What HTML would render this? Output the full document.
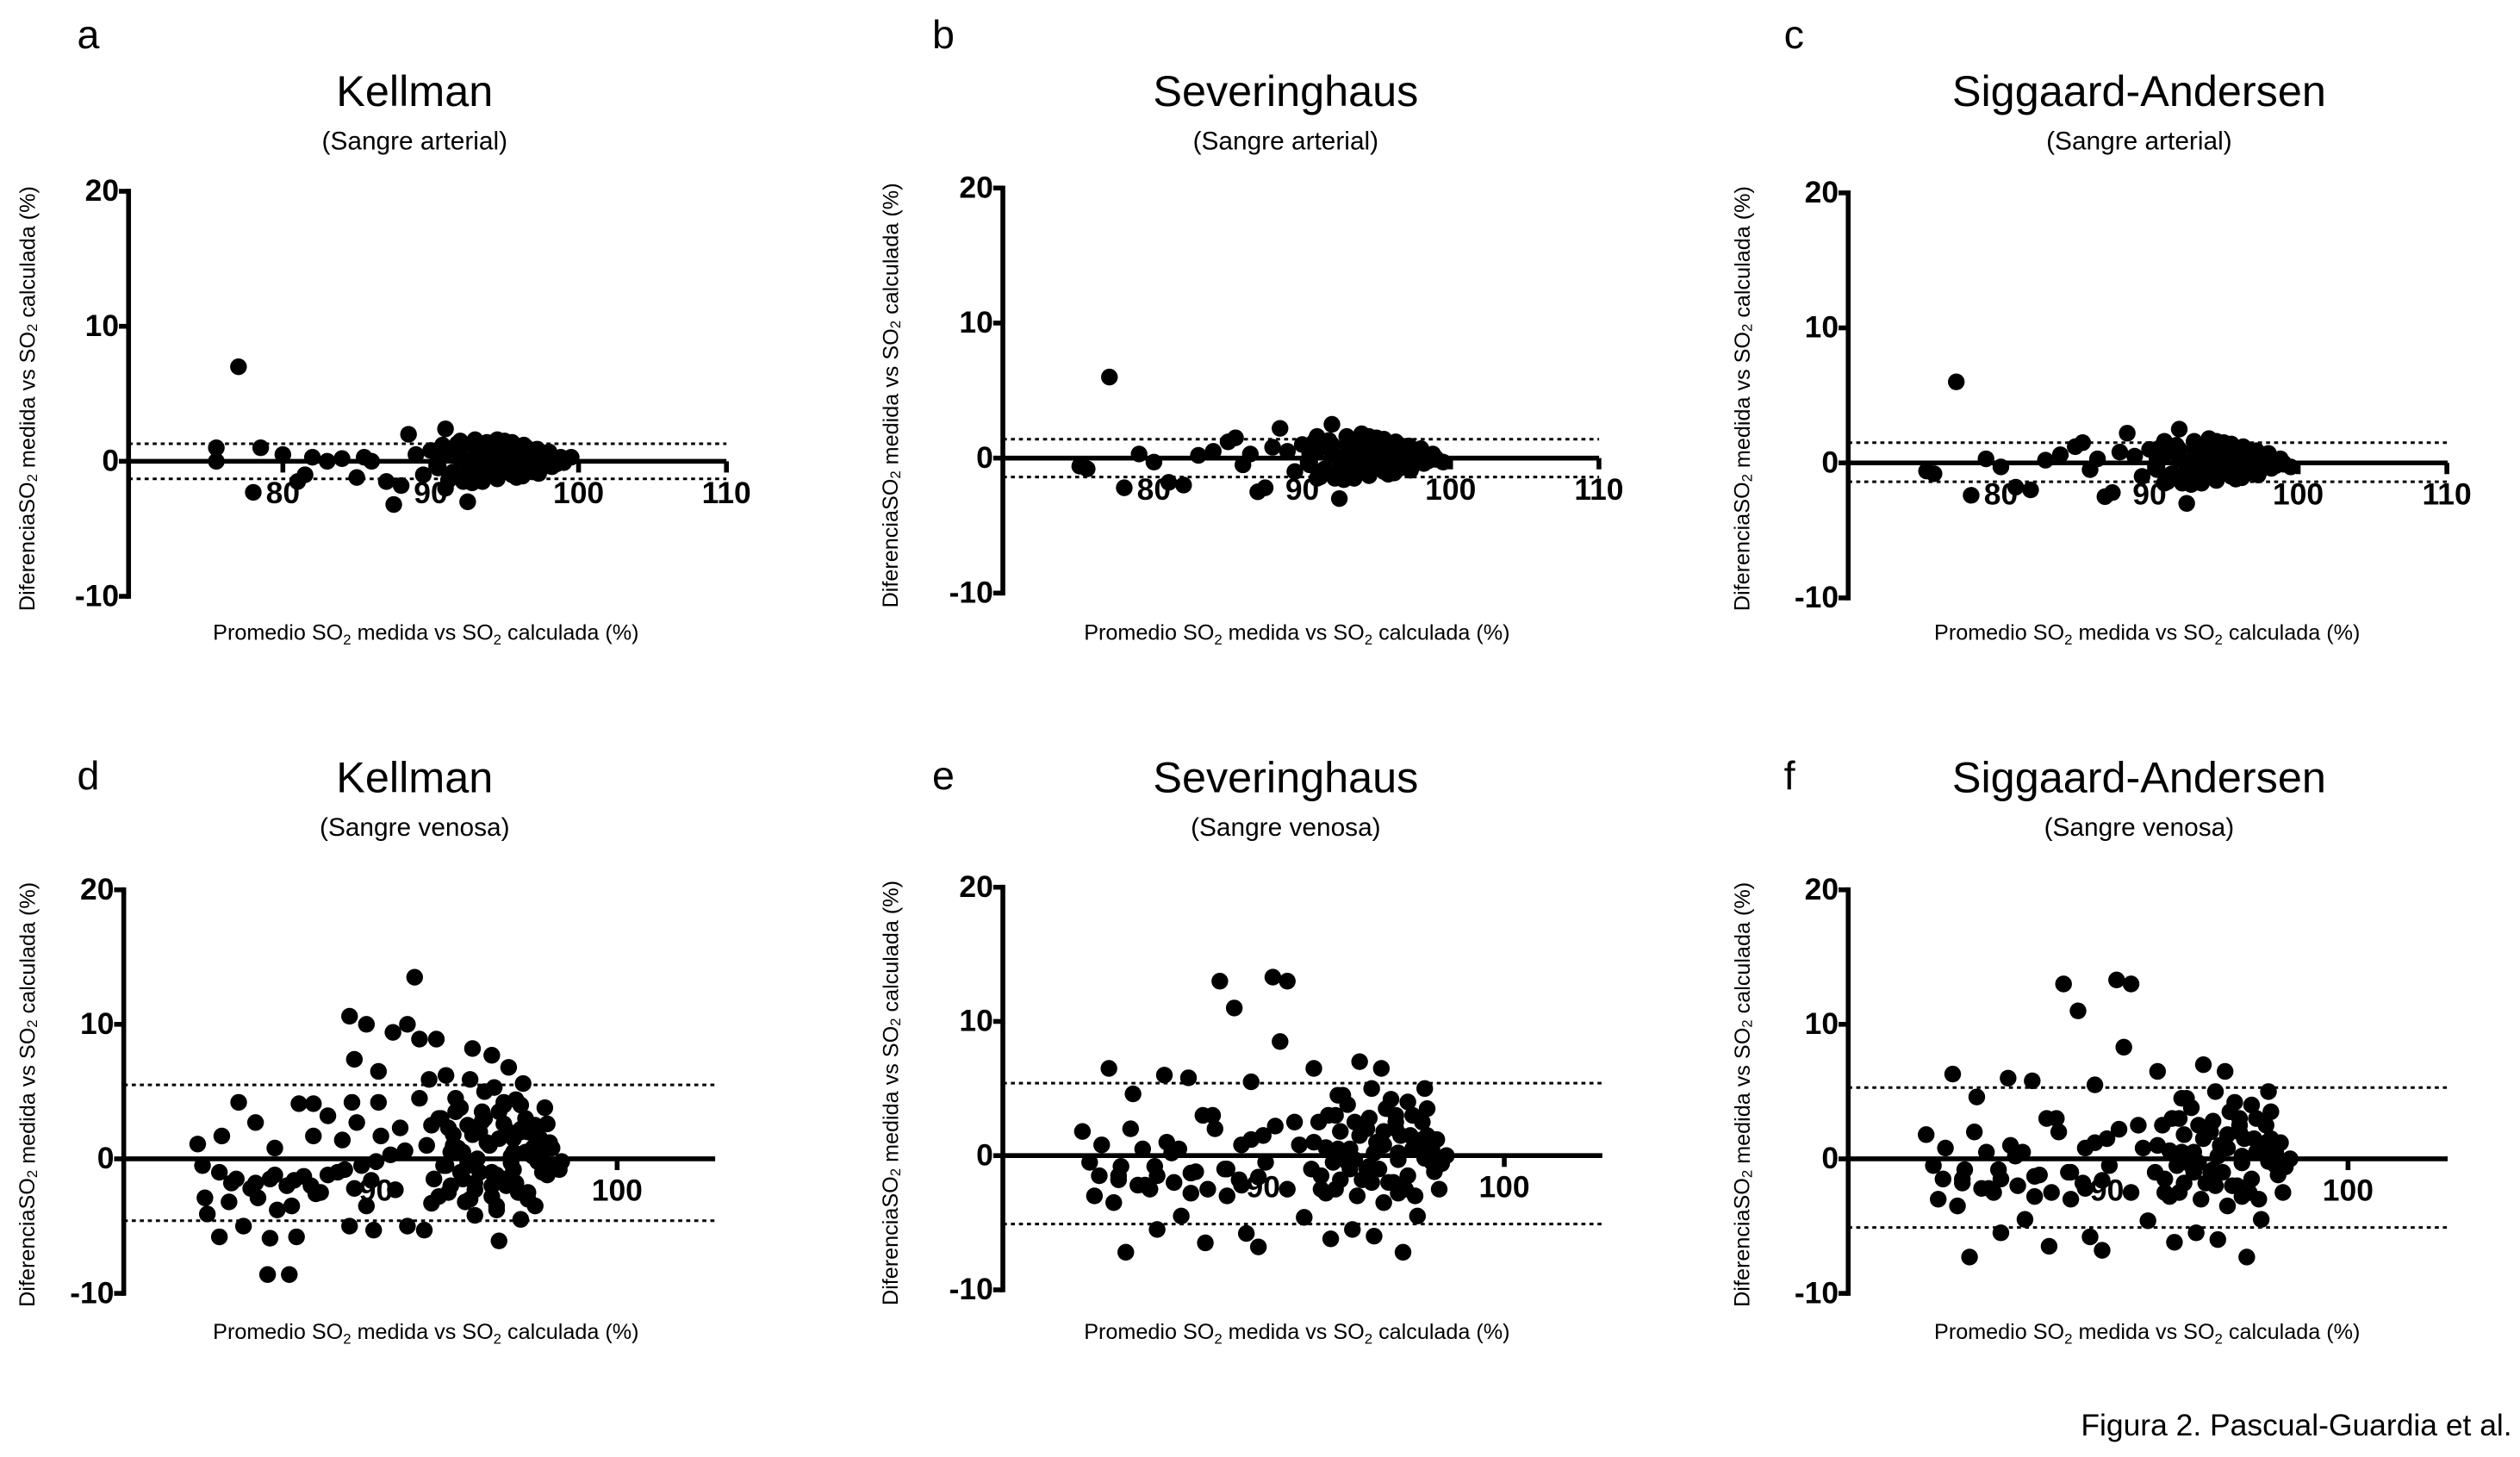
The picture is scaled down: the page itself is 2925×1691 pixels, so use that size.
<!DOCTYPE html>
<html><head><meta charset="utf-8">
<style>
html,body{margin:0;padding:0;background:#fff;}
svg{display:block;}
text{font-family:"Liberation Sans",sans-serif;fill:#000;}
.tk{font-family:"Liberation Sans Narrow","Liberation Sans",sans-serif;font-weight:bold;font-size:19px;}
.ttl{font-size:27px;}
.sub{font-size:16px;}
.lt{font-size:25px;}
.al{font-size:13.5px;}
</style></head>
<body>
<svg id="fig" width="2925" height="1691" viewBox="0 0 1568 906.5" xmlns="http://www.w3.org/2000/svg">
<g id="panels"></g>
<text x="1563" y="893" text-anchor="end" style="font-size:19px">Figura 2. Pascual-Guardia et al.</text>
</svg>
<script>
// ---- data (x = promedio, y = diferencia) ----
const topClusterX=[90.5,91,91.5,92,92.5,93,93.5,94,94.5,95,95.5,96,96.5,97,97.5,98,98.5,99,91.2,92.2,93.2,94.2,95.2,96.2,97.2,98.2,91.8,92.8,93.8,94.8,95.8,96.8,97.8,98.8,90.8,93.3,94.3,95.3,96.3,97.3];
const topClusterY=[-0.3,0.6,-1,0.4,-0.6,1,-0.9,0.5,-0.4,1.1,-0.7,0.7,-0.3,0.5,-0.2,0.4,0.1,-0.1,-1.4,-1.5,0,-0.2,0.2,-1.1,0.9,-0.4,1.3,-1.6,1.4,1,-1.2,0.2,0.1,0.3,1.2,-0.3,-0.8,0.5,1.2,-0.9];
const aX=[77,75.5,75.5,78,78.5,80,81,81.5,82,83,84,85,85.5,86,87,87.5,88,88.5,89,89.5,90,90.5,91,91,92,92.5,92,93,93.5,94,94,94.5,95,95,95.5,96,96,96.5,97,97,97.5,98,98.5,99,99.5,93,94,95,96,92.5,91.5,90.5,93.5,94.5,95.5,96.5,97.5,98,92,93,94.5,95.5].concat(topClusterX);
const aY=[7,1,0,-2.3,1,0.5,-1.5,-1,0.3,0,0.2,-1.2,0.3,0,-1.5,-3.2,-1.8,2,0.5,-1,0.8,-0.5,2.4,-2,1.5,-3,0.2,-0.5,1,1.2,-1,0,1.5,-0.5,0.8,0.3,-0.6,1,0,-0.3,0.6,0.2,-0.2,0,0.3,0.4,0.6,0.2,-0.2,-1.2,-0.8,0.3,-1.5,-1.3,-1,-0.8,-0.5,0.7,1,1.6,1.6,1.4].concat(topClusterY);
const bX=[77,75.5,75,78,79,80,81,82,83,84,85,85.5,86,87,87.5,88,88.5,89,89.5,90,90.5,91,91,92,92.5,92,93,93.5,94,94,94.5,95,95,95.5,96,96,96.5,97,97,97.5,98,98.5,99,99.5,93,94,95,96,92.5,91.5,90.5,93.5,94.5,95.5,96.5,97.5,98,92,93,94.5,95.5,86.5].concat(topClusterX);
const bY=[6,-0.8,-0.6,-2.2,0.3,-0.3,-1.8,-2,0.2,0.5,1.2,1.5,-0.5,-2.5,-2.2,0.8,2.2,0.5,-1,1,-0.5,1.6,-1.5,2.5,-3,0.2,-0.5,1,1.8,-1,0,1.5,-0.5,0.8,0.3,-0.6,1,0,-0.3,0.6,0.2,-0.2,0,-0.3,0.4,0.6,0.2,-0.2,-1.2,-0.8,0.3,-1.5,-1.3,-1,-0.8,-0.5,0.7,1,1.6,1.6,1.4,0.3].concat(topClusterY);
const cX=bX.slice();
const cY=[6,-0.8,-0.6,-2.4,0.3,-0.3,-1.8,-2,0.2,0.6,1.2,1.5,-0.5,-2.5,-2.2,0.8,2.2,0.5,-1,1,-0.5,1.6,-1.5,2.5,-3,0.2,-0.5,1,1.8,-1,0,1.5,-0.5,0.8,0.3,-0.6,1,0,-0.3,0.6,0.2,-0.2,0,-0.3,0.4,0.6,0.2,-0.2,-1.2,-0.8,0.3,-1.5,-1.3,-1,-0.8,-0.5,0.7,1,1.6,1.6,1.4,0.3].concat(topClusterY);
const botClusterX=[92.1,92.4,92.7,93,93.3,93.6,93.9,94.2,94.5,94.8,95.1,95.4,95.7,96,96.3,96.6,96.9,97.2,92.3,92.9,93.5,94.1,94.7,95.3,95.9,96.5,97.1,92.6,93.2,93.8,94.4,95,95.6,96.2,96.8,97.4,93.1,94.3,95.5,96.7,84,84.8,85.6,86.3,87,87.7,88.4,89.1,89.8];
const botClusterY=[1,-1.5,3,-2.5,4.5,0.5,-3,2,5,-1,3.5,-2,1.5,4,-3,2.5,0,1.2,2.5,-0.5,3.8,-1.8,1,4.2,-2.5,0.8,-1.2,-2.8,1.8,-0.3,2.8,-3.5,0.2,3,1.5,-0.6,0.5,-1,2,-0.2,-1.8,-2.2,-1.5,-2,-1.3,-2.5,-1,-2.2,-1.6];
const dX=[82.6,82.8,82.9,83.0,83.5,83.6,83.9,84.3,84.5,85.0,85.1,85.5,85.6,85.8,85.9,86.4,86.5,86.7,86.8,87.4,87.4,87.5,88.0,88.6,88.9,88.9,89.0,89.1,89.2,89.6,89.6,89.9,90.1,90.1,90.2,90.7,90.8,91.0,91.3,91.3,91.6,91.8,91.8,92.0,92.2,92.3,92.5,92.9,93.0,93.4,93.7,93.9,94.0,94.1,94.1,94.4,94.7,94.8,94.9,95.0,95.1,95.3,95.5,95.7,95.8,96.0,96.1,96.2,96.3,96.6,96.8,97.0,97.1,97.3,97.6,97.7,
83.5,84.2,85,85.8,86.6,87.3,88,88.7,89.4,90,90.6,91.2,93.2,93.5,93.8,94.2,94.5,94.8,95.1,95.4,95.7,96,96.3,96.6,96.9,93.3,93.8,94.3,94.8,95.3,95.8,96.3,96.8,97.2,93.6,94.6,95.6,96.5,92.6,92.8,93.1,94,95,96,97].concat(botClusterX);
const dY=[1.1,-0.5,-2.9,-4.1,-5.8,1.7,-3.2,4.2,-5,2.7,-2.9,-8.6,-5.9,0.8,-3.8,-8.6,-3.5,-5.8,4.1,4.1,1.7,-2.6,3.2,1.4,10.6,-5,4.2,7.4,2.7,10,-3.5,-5.3,6.5,4.2,1.7,9.4,-2.3,2.3,10,-5,13.5,8.9,4.5,-5.3,5.9,-3.3,8.9,6.2,2.3,0.8,-3.2,5.9,8.2,-4.2,-2.3,3.5,1.1,7.7,5.3,-3.8,-6.1,2.6,6.8,-0.8,4.4,-4.5,5.6,0.5,2,-3.5,-0.2,3.8,2.6,0.8,-0.8,-0.2,
-1,-1.5,-1.8,-1.2,-1.6,-2,-1.2,-0.8,-0.5,-0.2,0.3,0.6,1,-1,2.5,0,3,-2,1.5,-1.5,0.5,2,-2.5,1,-1,3.5,-0.5,2,-2.8,4,-1.8,0.4,1.5,-0.6,-1.5,1.2,-0.3,0.2,3,-0.5,-2,1.8,-1.2,2.2,0.8].concat(botClusterY);
const eX=[82.5,82.8,83,83.3,83.6,84,84.3,84.6,85,85.3,85.6,85.9,86.2,86.6,86.9,87.2,87.6,87.9,88.2,88.5,88.8,89.1,89.3,89.5,89.8,90.1,90.4,90.7,91,91.3,91.7,92.1,92.4,92.8,93.1,93.4,93.7,94,94.3,94.6,94.9,95.2,95.5,95.8,96.1,96.4,96.7,97,97.3,97.6,
83.2,84.1,85.1,86,87,88,89,90,91,92,93,93.5,94,94.5,95,95.5,96,96.5,97,93.2,93.8,94.4,95,95.6,96.2,96.8,92.6,93.6,94.6,95.6,96.6,91.5,90.5,89.5,88.5,87.5,86.5,85.5,84.5,83.8].concat(botClusterX);
const eY=[1.8,-0.5,-3,0.8,6.5,-1.5,-7.2,4.6,0.5,-2.5,-5.5,6,0.2,-4.5,5.8,-1.2,-6.5,3,13,-3,11,0.8,-5.8,5.5,-6.8,-0.5,13.3,8.5,13,2.5,-4.6,6.5,-2.5,-6.2,4.5,0.3,-5.5,7,2,-6,6.5,-2,3,-7.2,1.5,-4.5,5,0.5,-2.5,0,
-1.5,-0.8,-2.2,1,-2.8,2,-1.8,1.5,-2.5,-1,3,-0.5,1.5,-2,0.8,2.5,-1.5,1,-0.5,-1.8,2.5,-0.8,1.8,-2.8,0.5,3.5,0.6,-1,0.2,-0.3,1.2,0.8,2.2,1.2,-1,3,0.5,-0.8,2,-3.5].concat(botClusterY);
const fX=eX.slice();
const fY=[1.8,-0.5,-3,0.8,6.3,-1.5,-7.3,4.6,0.5,-2.5,-5.5,6,0.2,-4.5,5.8,-1.2,-6.5,3,13,-3,11,0.8,-5.8,5.5,-6.8,-0.5,13.3,8.3,13,2.5,-4.6,6.5,-2.5,-6.2,4.5,0.3,-5.5,7,2,-6,6.5,-2,3,-7.3,1.5,-4.5,5,0.5,-2.5,0,
-1.5,-0.8,-2.2,1,-2.8,2,-1.8,1.5,-2.5,-1,3,-0.5,1.5,-2,0.8,2.5,-1.5,1,-0.5,-1.8,2.5,-0.8,1.8,-2.8,0.5,3.5,0.6,-1,0.2,-0.3,1.2,0.8,2.2,1.2,-1,3,0.5,-0.8,2,-3.5].concat(botClusterY);
const yTicks=[20,10,0,-10];
const xTicksTop=[80,90,100,110];
const xTicksBot=[90,100];
const limitsA=[1.3,-1.3], limitsB=[1.4,-1.4], limitsC=[1.5,-1.4];
const limitsD=[5.5,-4.6], limitsE=[5.4,-5.1], limitsF=[5.3,-5.1];
const titles=["Kellman","Severinghaus","Siggaard-Andersen","Kellman","Severinghaus","Siggaard-Andersen"];
const subs=["(Sangre arterial)","(Sangre arterial)","(Sangre arterial)","(Sangre venosa)","(Sangre venosa)","(Sangre venosa)"];
const letters=["a","b","c","d","e","f"];

// ---- layout ----
const panels=[
 {id:'a',ax:80,refV:80,refPx:176,ppx:9.2,y0:287,ppy:8.4,xEnd:452,ticks:xTicksTop,X:aX,Y:aY,lim:limitsA,tx:258,ty:66,lx:48,ly:30,alx:18,aly:248,xlx:265,xly:398},
 {id:'b',ax:624,refV:80,refPx:718,ppx:9.23,y0:285,ppy:8.4,xEnd:995,ticks:xTicksTop,X:bX,Y:bY,lim:limitsB,tx:800,ty:66,lx:580,ly:30,alx:555,aly:246,xlx:807,xly:398},
 {id:'c',ax:1150,refV:80,refPx:1245,ppx:9.25,y0:288,ppy:8.4,xEnd:1523,ticks:xTicksTop,X:cX,Y:cY,lim:limitsC,tx:1331,ty:66,lx:1110,ly:30,alx:1085,aly:248,xlx:1336,xly:398},
 {id:'d',ax:77,refV:100,refPx:384,ppx:15,y0:721,ppy:8.37,xEnd:445,ticks:xTicksBot,X:dX,Y:dY,lim:limitsD,tx:258,ty:493,lx:48,ly:491,alx:18,aly:681,xlx:265,xly:833},
 {id:'e',ax:624,refV:100,refPx:936,ppx:15,y0:719,ppy:8.35,xEnd:997,ticks:xTicksBot,X:eX,Y:eY,lim:limitsE,tx:800,ty:493,lx:580,ly:491,alx:555,aly:680,xlx:807,xly:833},
 {id:'f',ax:1150,refV:100,refPx:1461,ppx:15,y0:721,ppy:8.37,xEnd:1523,ticks:xTicksBot,X:fX,Y:fY,lim:limitsF,tx:1331,ty:493,lx:1110,ly:491,alx:1085,aly:681,xlx:1336,xly:833}
];
const NS='http://www.w3.org/2000/svg';
const root=document.getElementById('panels');
function mk(tag,attrs,parent){const e=document.createElementNS(NS,tag);for(const k in attrs)e.setAttribute(k,attrs[k]);parent.appendChild(e);return e;}
panels.forEach((p,i)=>{
  const g=mk('g',{},root);
  
  
  const sx=v=>p.refPx+(v-p.refV)*p.ppx;
  const sy=v=>p.y0-v*p.ppy;
  let t=mk('text',{x:p.lx,y:p.ly,'class':'lt'},g);t.textContent=letters[i];
  
  
  t=mk('text',{x:p.tx,y:p.ty,'class':'ttl','text-anchor':'middle'},g);t.textContent=titles[i];
  
  
  t=mk('text',{x:p.tx,y:p.ty+27,'class':'sub','text-anchor':'middle'},g);t.textContent=subs[i];
  
  
  let l=mk('line',{x1:p.ax,x2:p.ax,y1:sy(20)-1.5,y2:sy(-10)+1.5,stroke:'#000','stroke-width':3},g);
  
  
  yTicks.forEach(v=>{
    const tk=mk('line',{x1:p.ax-6,x2:p.ax,y1:sy(v),y2:sy(v),stroke:'#000','stroke-width':3},g);
    
    
    const tl=mk('text',{x:p.ax-6,y:sy(v)+6,'class':'tk','text-anchor':'end'},g);tl.textContent=String(v);
    
    
  });
  p.ticks.forEach(v=>{
    const tl=mk('text',{x:sx(v),y:p.y0+26,'class':'tk','text-anchor':'middle'},g);tl.textContent=String(v);
    
    
  });
  p.lim.forEach(v=>{
    const dl=mk('line',{x1:p.ax,x2:p.xEnd,y1:sy(v),y2:sy(v),stroke:'#000','stroke-width':1.6,'stroke-dasharray':'2.5,2.5'},g);
    
    
  });
  l=mk('line',{x1:p.ax,x2:p.xEnd,y1:p.y0,y2:p.y0,stroke:'#000','stroke-width':3},g);
  
  
  p.ticks.forEach(v=>{
    const tk=mk('line',{x1:sx(v),x2:sx(v),y1:p.y0,y2:p.y0+7,stroke:'#000','stroke-width':3},g);
    
    
  });
  p.X.forEach((xv,k)=>{
    const c=mk('circle',{cx:sx(xv),cy:sy(p.Y[k]),r:5.2,fill:'#000'},g);
    
    
  });
  t=mk('text',{x:p.alx,y:p.aly,'class':'al','text-anchor':'middle',transform:'rotate(-90 '+p.alx+' '+p.aly+')','dominant-baseline':'middle'},g);
  t.innerHTML='DiferenciaSO<tspan font-size="9" dy="3">2</tspan><tspan dy="-3"> medida vs SO</tspan><tspan font-size="9" dy="3">2</tspan><tspan dy="-3"> calculada (%)</tspan>';
  
  
  t=mk('text',{x:p.xlx,y:p.xly,'class':'al','text-anchor':'middle'},g);
  t.innerHTML='Promedio SO<tspan font-size="9" dy="3">2</tspan><tspan dy="-3"> medida vs SO</tspan><tspan font-size="9" dy="3">2</tspan><tspan dy="-3"> calculada (%)</tspan>';
  
  
});
</script>
</body></html>
